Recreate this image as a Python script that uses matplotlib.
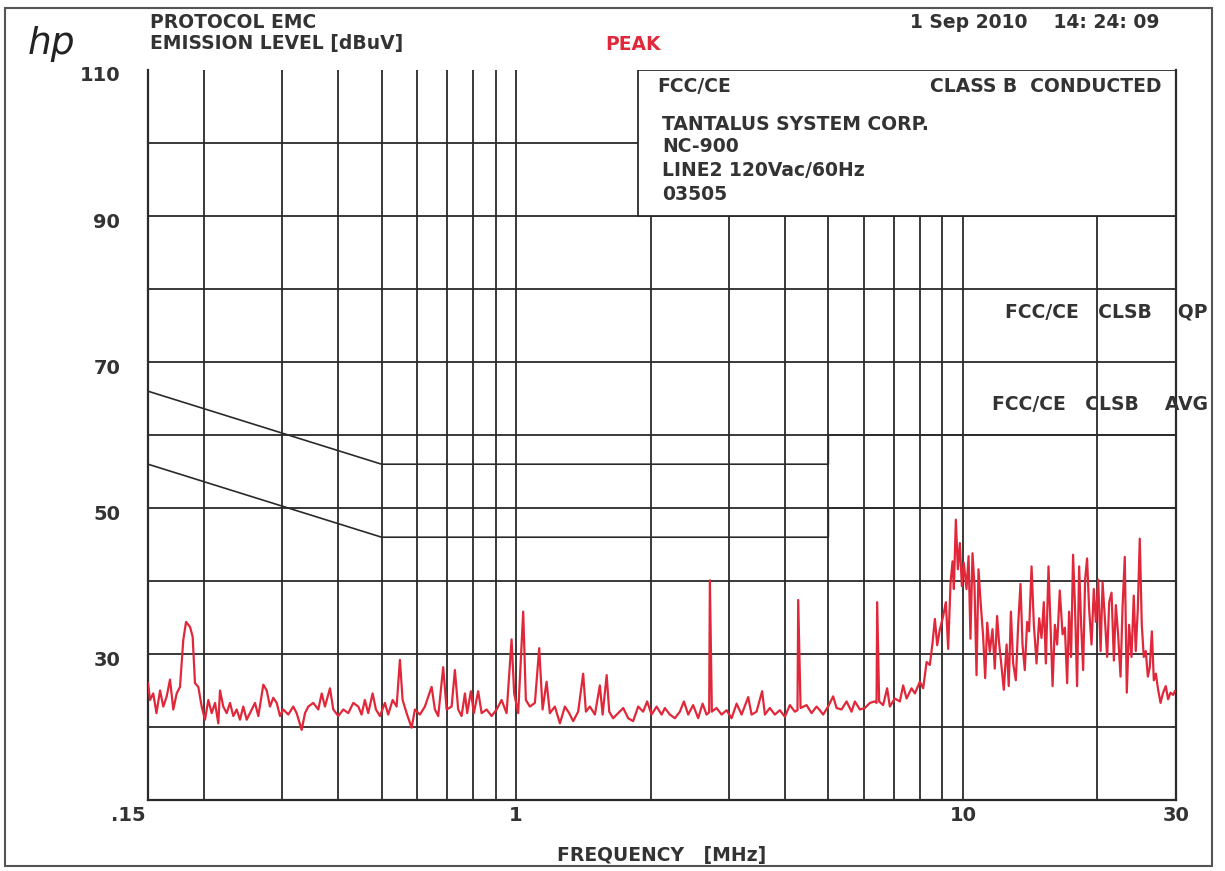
import matplotlib
matplotlib.use("Agg")
import matplotlib.pyplot as plt
from matplotlib.patches import Rectangle
from matplotlib.transforms import ScaledTranslation

# ---------------- data ----------------
freq_mhz = [
    0.150, 0.1516, 0.1541, 0.1567, 0.1596, 0.1623, 0.1652, 0.1680, 0.1709, 0.1739,
    0.1769, 0.1799, 0.1825, 0.1863, 0.1888, 0.1911, 0.1944, 0.1978, 0.2012, 0.2047,
    0.2083, 0.2119, 0.2155, 0.2174, 0.2211, 0.2250, 0.2289, 0.2328, 0.2369, 0.2410,
    0.2451, 0.2495, 0.2560, 0.2604, 0.2649, 0.2718, 0.2766, 0.2813, 0.2861, 0.2912,
    0.2962, 0.3012, 0.3091, 0.3171, 0.3227, 0.3312, 0.3369, 0.3427, 0.3516, 0.3608,
    0.3672, 0.3734, 0.3832, 0.3898, 0.4000, 0.4104, 0.4211, 0.4321, 0.4434,
    0.4510, 0.4587, 0.4667, 0.4774, 0.4856, 0.4957, 0.5086, 0.5173, 0.5292, 0.5402,
    0.5495, 0.5572, 0.5688, 0.5837, 0.5937, 0.6091, 0.6250, 0.6470, 0.6581, 0.6694,
    0.6868, 0.6990, 0.7173, 0.7295, 0.7420, 0.7551, 0.7681, 0.7773, 0.7921, 0.8045,
    0.8225, 0.8372, 0.8590, 0.8815, 0.9045, 0.9280, 0.9522, 0.9770, 0.9902, 1.0109,
    1.0373, 1.0517, 1.0737, 1.1018, 1.1265, 1.1463, 1.1702, 1.1901, 1.2214, 1.2533,
    1.2860, 1.3147,
    1.342, 1.377, 1.413, 1.433, 1.463, 1.501, 1.540, 1.562, 1.595, 1.616,
    1.649, 1.692, 1.737, 1.782, 1.828, 1.876, 1.925, 1.965, 2.010, 2.063,
    2.117, 2.153, 2.209, 2.267, 2.326, 2.375, 2.428, 2.491, 2.556, 2.615,
    2.669, 2.705, 2.715, 2.743, 2.810, 2.884, 2.959, 3.037, 3.116, 3.197,
    3.308, 3.366, 3.453, 3.554, 3.605, 3.698, 3.795, 3.894, 3.996, 4.100,
    4.207, 4.265, 4.280, 4.333, 4.469, 4.585, 4.705, 4.785,
    4.867, 4.994, 5.125, 5.216, 5.352, 5.492, 5.635, 5.732, 5.882, 6.035,
    6.193, 6.354, 6.410, 6.430, 6.496, 6.631, 6.770, 6.864, 7.043, 7.228,
    7.352, 7.482, 7.678, 7.810, 8.014, 8.151, 8.296, 8.437, 8.556, 8.658,
    8.762, 8.884, 9.037, 9.162, 9.271, 9.387, 9.483, 9.548, 9.646, 9.746,
    9.847, 9.949, 10.05, 10.19, 10.30, 10.40, 10.51, 10.62, 10.73, 10.84,
    10.96, 11.10, 11.22, 11.34, 11.49, 11.65, 11.79, 11.93, 12.05,
    12.21, 12.35, 12.53, 12.67, 12.81, 12.96, 13.14, 13.30, 13.46, 13.60,
    13.76, 13.93, 14.07, 14.25, 14.42, 14.62, 14.82, 15.00, 15.18, 15.34,
    15.55, 15.71, 15.88, 16.07, 16.26, 16.48, 16.72, 16.92, 17.12, 17.29,
    17.47, 17.65, 17.83, 18.02, 18.21, 18.40, 18.59, 18.78, 18.97, 19.17,
    19.41, 19.64, 19.85, 20.09, 20.34, 20.55, 20.79, 21.04, 21.26, 21.52,
    21.78, 22.00, 22.26, 22.54, 22.77, 23.04, 23.28, 23.56, 23.85, 24.13,
    24.38, 24.64, 24.89, 25.15, 25.41, 25.67, 25.95, 26.21, 26.49, 26.76,
    27.04, 27.36, 27.70, 28.07, 28.46, 28.80, 29.16, 29.56, 29.82,
]
level_dbuv = [
    26.0, 23.7, 24.6, 21.9, 25.0, 22.8, 24.2, 26.5, 22.4, 24.6,
    25.5, 31.9, 34.4, 33.7, 32.4, 26.0, 25.5, 22.8, 21.0, 23.7,
    21.9, 23.3, 20.5, 25.0, 22.8, 21.9, 23.3, 21.5, 22.4, 21.0,
    22.8, 21.0, 22.4, 23.3, 21.5, 25.8, 25.0, 22.8, 24.0, 23.3,
    21.5, 22.4, 21.7, 22.8, 21.9, 19.6, 21.9, 22.8, 23.3, 22.4,
    24.6, 22.8, 25.3, 22.4, 21.5, 22.4, 21.9, 23.3, 22.8,
    21.7, 23.7, 21.9, 24.6, 22.4, 21.5, 23.3, 21.7, 23.7, 22.8,
    29.2, 23.7, 21.9, 19.9, 22.4, 21.7, 22.8, 25.5, 22.4, 21.5,
    28.2, 22.4, 22.8, 27.8, 22.4, 21.5, 24.6, 21.9, 24.9, 21.9,
    24.9, 21.9, 22.4, 21.5, 22.4, 23.7, 21.9, 32.0, 24.6, 21.9,
    35.8, 23.7, 22.8, 23.3, 30.8, 22.4, 26.2, 21.9, 22.8, 20.5,
    22.8, 21.9,
    20.8, 22.1, 27.3, 22.1, 22.8, 21.7, 25.7, 21.7, 27.1, 22.1,
    21.2, 21.9, 22.6, 21.2, 20.8, 22.8, 22.1, 23.5, 21.7, 22.8,
    21.7, 22.6, 21.7, 21.2, 22.1, 23.5, 21.7, 23.0, 21.2, 23.2,
    21.7, 22.0, 40.1, 22.1, 22.6, 21.7, 22.3, 21.2, 23.2, 21.7,
    24.1, 21.7, 22.1, 24.9, 21.7, 22.6, 21.7, 22.3, 21.4, 23.0,
    22.1, 22.3, 37.4, 22.6, 23.0, 21.9, 22.8, 22.3,
    21.7, 22.8, 24.2, 22.6, 22.4, 23.5, 22.1, 23.5, 22.4, 22.6,
    23.3, 23.5, 23.3, 37.1, 23.5, 23.0, 25.3, 22.8, 23.9, 23.5,
    25.7, 23.9, 25.3, 24.6, 26.2, 25.3, 28.9, 28.5, 31.6, 34.8,
    31.2, 33.4, 35.2, 37.1, 30.7, 39.8, 42.7, 38.9, 48.4, 41.6,
    45.2, 39.3, 42.5, 38.9, 43.4, 32.1, 43.8, 39.3, 27.1, 41.6,
    37.1, 32.5, 26.7, 34.3, 30.3, 33.4, 28.0, 35.2, 31.6,
    28.2, 25.1, 31.3, 25.6, 35.8, 28.7, 26.4, 34.0, 39.6, 31.3,
    27.8, 34.4, 33.1, 42.0, 34.0, 28.7, 34.9, 32.2, 37.1, 28.7,
    42.0, 34.0, 25.6, 34.0, 31.3, 38.7, 32.7, 33.6, 26.0, 35.8,
    29.6, 43.6, 36.2, 25.6, 42.0, 34.0, 27.8, 40.2, 43.1, 36.2,
    31.3, 38.9, 34.4, 40.2, 30.4, 39.8, 34.9, 29.6, 37.1, 38.4,
    29.1, 36.7, 32.7, 26.9, 36.2, 43.3, 24.7, 34.0, 29.6, 38.0,
    30.4, 36.2, 45.8, 34.0, 29.6, 30.4, 26.9, 28.2, 33.1, 26.4,
    27.3, 25.1, 23.3, 24.7, 25.6, 23.8, 24.7, 24.4, 24.9,
]

# limit lines (FCC / CE class B conducted)
qp_freq = [0.15, 0.5, 5.0, 5.0, 30.0]
qp_level = [66, 56, 56, 60, 60]
avg_freq = [0.15, 0.5, 5.0, 5.0, 30.0]
avg_level = [56, 46, 46, 50, 50]

x_grid = [0.2, 0.3, 0.4, 0.5, 0.6, 0.7, 0.8, 0.9, 1, 2, 3, 4, 5, 6, 7, 8, 9, 10, 20]
y_grid = [20, 30, 40, 50, 60, 70, 80, 90, 100]
x_ticks = [0.15, 1, 10, 30]
x_tick_labels = [".15", "1", "10", "30"]
y_ticks = [30, 50, 70, 90, 110]
y_tick_labels = ["30", "50", "70", "90", "110"]

# ---------------- figure ----------------
W, H = 1225, 871
fig = plt.figure(figsize=(W / 100, H / 100), dpi=100)
fig.patch.set_facecolor("white")

def fx(px):
    return px / W

def fy(py):
    return 1 - py / H

L, R, T, B = 148, 1176, 70, 800
ax = fig.add_axes([fx(L), fy(B), (R - L) / W, (B - T) / H])
ax.set_xscale("log")
ax.set_xlim(0.15, 30)
ax.set_ylim(10, 110)

INK = "#2a2a2a"
FONT = dict(family="DejaVu Sans", fontweight="bold", color="#333333")

for xv in x_grid:
    ax.axvline(xv, color=INK, lw=1.3, zorder=1)
for yv in y_grid:
    ax.axhline(yv, color=INK, lw=1.3, zorder=1)

# information box over the upper right part of the grid
box_left = 1.87
ax.add_patch(Rectangle((box_left, 90), 30 - box_left, 20, facecolor="white",
                       edgecolor=INK, lw=1.3, zorder=2))

ax.plot(qp_freq, qp_level, color=INK, lw=1.2, zorder=3)
ax.plot(avg_freq, avg_level, color=INK, lw=1.2, zorder=3)

ax.plot(freq_mhz, level_dbuv, color="#e0283a", lw=1.6, zorder=4)

for s in ax.spines.values():
    s.set_color(INK)
    s.set_linewidth(1.6)
ax.spines["top"].set_visible(False)

ax.minorticks_off()
ax.set_xticks(x_ticks)
ax.set_xticklabels(x_tick_labels)
ax.set_yticks(y_ticks)
ax.set_yticklabels(y_tick_labels)
ax.tick_params(axis="both", length=0, labelsize=14, labelcolor="#333333")
ax.tick_params(axis="x", pad=4)
ax.tick_params(axis="y", pad=20)
for lab in ax.get_xticklabels() + ax.get_yticklabels():
    lab.set_fontweight("bold")
    lab.set_family("DejaVu Sans")
for lab in ax.get_yticklabels():
    lab.set_transform(lab.get_transform() + ScaledTranslation(0, -4 / 100, fig.dpi_scale_trans))
xl = ax.get_xticklabels()
xl[0].set_transform(xl[0].get_transform() + ScaledTranslation(-20 / 100, 0, fig.dpi_scale_trans))

# ---------------- texts ----------------
fig.text(fx(28), fy(44), "hp", fontsize=27, style="italic", color="#222222",
         family="DejaVu Sans", va="center", ha="left")
fig.text(fx(150), fy(23), "PROTOCOL EMC", fontsize=13.5, va="center", ha="left", **FONT)
fig.text(fx(150), fy(44), "EMISSION LEVEL [dBuV]", fontsize=13.5, va="center", ha="left", **FONT)
fig.text(fx(605), fy(44), "PEAK", fontsize=13.5, va="center", ha="left",
         family="DejaVu Sans", fontweight="bold", color="#e0283a")
fig.text(fx(1160), fy(22), "1 Sep 2010    14: 24: 09", fontsize=13.5, va="center", ha="right", **FONT)

fig.text(fx(657), fy(87), "FCC/CE", fontsize=13.5, va="center", ha="left", **FONT)
fig.text(fx(1162), fy(87), "CLASS B  CONDUCTED", fontsize=13.5, va="center", ha="right", **FONT)
fig.text(fx(662), fy(124), "TANTALUS SYSTEM CORP.", fontsize=13.5, va="center", ha="left", **FONT)
fig.text(fx(662), fy(147), "NC-900", fontsize=13.5, va="center", ha="left", **FONT)
fig.text(fx(662), fy(171), "LINE2 120Vac/60Hz", fontsize=13.5, va="center", ha="left", **FONT)
fig.text(fx(662), fy(195), "03505", fontsize=13.5, va="center", ha="left", **FONT)

fig.text(fx(1005), fy(312), "FCC/CE   CLSB    QP", fontsize=13.5, va="center", ha="left", **FONT)
fig.text(fx(992), fy(404), "FCC/CE   CLSB    AVG", fontsize=13.5, va="center", ha="left", **FONT)

fig.text(fx(662), fy(855), "FREQUENCY   [MHz]", fontsize=13.5, va="center", ha="center", **FONT)

# page frame
fig.add_artist(Rectangle((fx(5), fy(866)), (1212 - 5) / W, (866 - 8) / H,
                         transform=fig.transFigure, fill=False,
                         edgecolor="#555555", lw=1.5))

fig.savefig("out.png", dpi=100, facecolor="white")
